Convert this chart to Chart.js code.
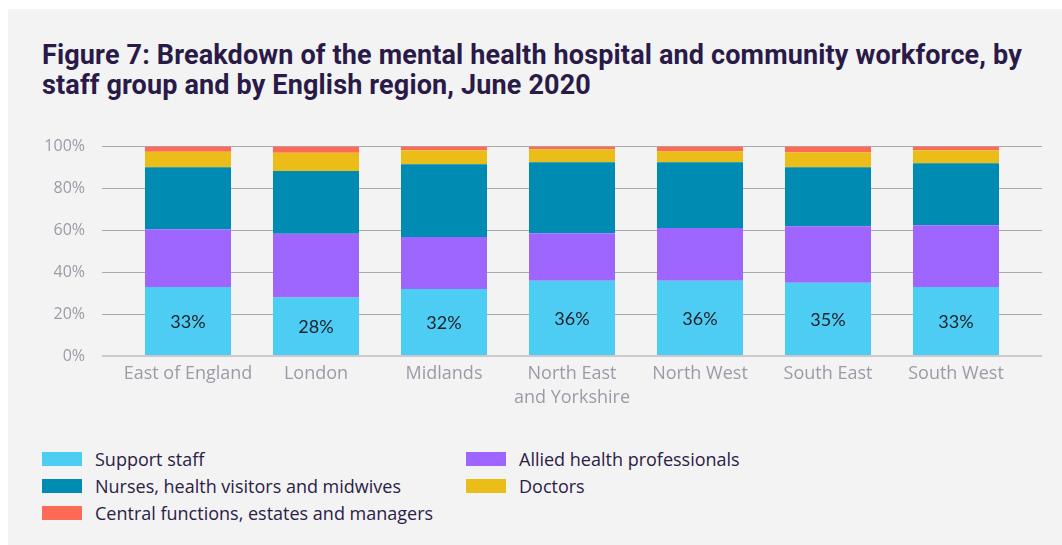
<!DOCTYPE html>
<html>
<head>
<meta charset="utf-8">
<script src="https://cdn.jsdelivr.net/npm/chart.js@4.4.1/dist/chart.umd.min.js"></script>
<style>
  html, body { margin: 0; padding: 0; background: #fff; }
  .panel { position: absolute; left: 8px; top: 9px; width: 1054px; height: 536px; background: #f3f3f3; overflow: hidden; }
  h1 { position: absolute; left: 34px; top: 31px; margin: 0; font: 700 27px/30px Roboto, sans-serif; color: #2a1a48; letter-spacing: 0.15px; white-space: nowrap; }
  .plot { position: absolute; left: 0; top: 111px; width: 1054px; height: 296px; }
  .legend { position: absolute; left: 34px; top: 439px; display: grid; grid-template-columns: 424px 400px; row-gap: 5px; font: 400 18px/22px "Open Sans", sans-serif; color: #2b2045; }
  .legend div { display: flex; align-items: center; white-space: nowrap; }
  .legend span { display: inline-block; width: 40px; height: 14px; margin-right: 13px; }
</style>
</head>
<body>
<div class="panel">
  <h1>Figure 7: Breakdown of the mental health hospital and community workforce, by<br>staff group and by English region, June 2020</h1>
  <div class="plot"><canvas id="chart"></canvas></div>
  <div class="legend" id="legend"></div>
</div>
<script>
  // regions along the x axis
  const regions = [
    'East of England', 'London', 'Midlands', ['North East', 'and Yorkshire'],
    'North West', 'South East', 'South West'
  ];

  // share of each region's workforce, per staff group (%)
  const supportStaff = [33, 28, 32, 36, 36, 35, 33];
  const alliedHealth = [27.6, 30.4, 24.8, 22.7, 25.1, 27.0, 29.5];
  const nurses       = [29.5, 30.0, 34.8, 33.8, 31.4, 28.1, 29.5];
  const doctors      = [7.5, 8.7, 6.7, 6.2, 5.3, 7.2, 6.3];
  const central      = [2.4, 2.9, 1.7, 1.3, 2.2, 2.7, 1.7];

  const yTicks = [0, 20, 40, 60, 80, 100];

  const groups = [
    { label: 'Support staff', data: supportStaff, color: '#4ecdf4' },
    { label: 'Allied health professionals', data: alliedHealth, color: '#9e66ff' },
    { label: 'Nurses, health visitors and midwives', data: nurses, color: '#008bb3' },
    { label: 'Doctors', data: doctors, color: '#eabd18' },
    { label: 'Central functions, estates and managers', data: central, color: '#ff6a57' },
  ];

  const GRID = '#a7a7b0';
  const BASE = '#c9c9cf';
  const EXTEND = 22; // gridlines run past the bars on both sides
  const gridColor = (c) => (c.tick && c.tick.value === 0 ? BASE : GRID);
  const gridWidth = (c) => (c.tick && c.tick.value === 0 ? 2 : 1);

  // continue each y gridline a little to the right of the plot area
  const gridRight = {
    id: 'gridRight',
    beforeDatasetsDraw(chart) {
      const { ctx, chartArea, scales } = chart;
      const y = scales.y;
      ctx.save();
      y.ticks.forEach(t => {
        const w = t.value === 0 ? 2 : 1;
        const p = Math.round(y.getPixelForValue(t.value) - w / 2) + w / 2;
        ctx.strokeStyle = t.value === 0 ? BASE : GRID;
        ctx.lineWidth = w;
        ctx.beginPath();
        ctx.moveTo(chartArea.right, p);
        ctx.lineTo(chartArea.right + EXTEND, p);
        ctx.stroke();
      });
      ctx.restore();
    }
  };

  // percentage written in the middle of the support staff segment
  const supportLabels = {
    id: 'supportLabels',
    afterDatasetsDraw(chart) {
      const ctx = chart.ctx;
      const meta = chart.getDatasetMeta(0);
      ctx.save();
      ctx.font = '400 18px Lato, sans-serif';
      ctx.fillStyle = '#1e1e26';
      ctx.textAlign = 'center';
      ctx.textBaseline = 'middle';
      meta.data.forEach((bar, i) => {
        ctx.fillText(Math.round(supportStaff[i]) + '%', bar.x, (bar.y + bar.base) / 2 + 1);
      });
      ctx.restore();
    }
  };

  const chart = new Chart(document.getElementById('chart'), {
    type: 'bar',
    data: {
      labels: regions,
      datasets: groups.map(g => ({
        label: g.label,
        data: g.data,
        backgroundColor: g.color,
        borderWidth: 0,
        barPercentage: 0.672,
        categoryPercentage: 1,
      })),
    },
    options: {
      responsive: true,
      maintainAspectRatio: false,
      animation: false,
      layout: { padding: { left: 0, right: 42, top: 25, bottom: 0 } },
      plugins: {
        legend: { display: false },
        tooltip: { enabled: false },
      },
      scales: {
        x: {
          stacked: true,
          grid: { display: false, drawTicks: false },
          border: { display: false },
          ticks: {
            color: '#9b9ba8', padding: 6, autoSkip: false, maxRotation: 0, minRotation: 0,
            font: { family: '"Open Sans", sans-serif', size: 18, lineHeight: 1.33 },
          },
        },
        y: {
          stacked: true,
          min: 0,
          max: 100,
          afterBuildTicks: (s) => { s.ticks = yTicks.map(v => ({ value: v })); },
          afterFit: (s) => { s.width = 116; },
          border: { display: false },
          grid: { color: gridColor, lineWidth: gridWidth, drawTicks: true, tickLength: EXTEND, tickColor: gridColor, tickWidth: gridWidth },
          ticks: { color: '#9b9ba8', padding: 17, callback: v => v + '%', font: { family: '"Open Sans", sans-serif', size: 16 } },
        },
      },
    },
    plugins: [gridRight, supportLabels],
  });

  // two-column legend built from the datasets
  const legend = document.getElementById('legend');
  chart.data.datasets.forEach(ds => {
    const item = document.createElement('div');
    const sw = document.createElement('span');
    sw.style.background = ds.backgroundColor;
    item.appendChild(sw);
    item.appendChild(document.createTextNode(ds.label));
    legend.appendChild(item);
  });
</script>
</body>
</html>
